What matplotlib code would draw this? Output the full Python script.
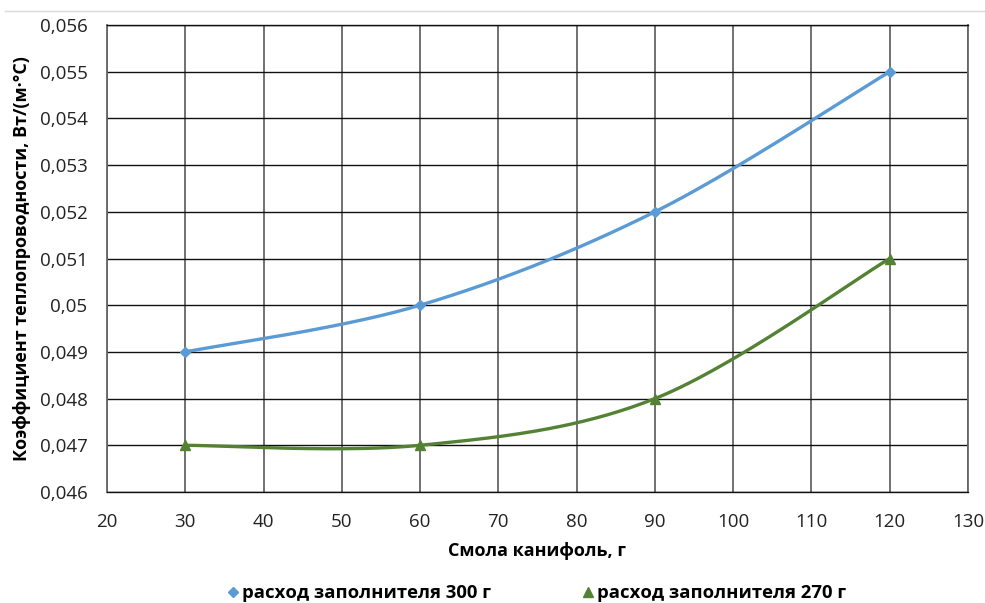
import numpy as np
import matplotlib
matplotlib.use("Agg")
import matplotlib.pyplot as plt
from matplotlib.lines import Line2D
from matplotlib.ticker import FuncFormatter, MultipleLocator

x_vals = [30, 60, 90, 120]
series_300 = [0.049, 0.050, 0.052, 0.055]
series_270 = [0.047, 0.047, 0.048, 0.051]
labels = ["расход заполнителя 300 г", "расход заполнителя 270 г"]
x_label = "Смола канифоль, г"
y_label = "Коэффициент теплопроводности, Вт/(м·°С)"

plt.rcParams['font.family'] = ['Open Sans', 'DejaVu Sans']


def smooth(xs, ys, n=60):
    # Excel-like Catmull-Rom / Bezier smoothing
    P = np.column_stack([xs, ys]).astype(float)
    out = []
    for i in range(len(P) - 1):
        p0 = P[i - 1] if i > 0 else P[i]
        p1 = P[i]
        p2 = P[i + 1]
        p3 = P[i + 2] if i + 2 < len(P) else P[i + 1]
        c1 = p1 + (p2 - p0) / 6.0
        c2 = p2 - (p3 - p1) / 6.0
        t = np.linspace(0, 1, n)[:, None]
        b = ((1 - t) ** 3) * p1 + 3 * ((1 - t) ** 2) * t * c1 + 3 * (1 - t) * t ** 2 * c2 + t ** 3 * p2
        out.append(b if i == 0 else b[1:])
    B = np.vstack(out)
    return B[:, 0], B[:, 1]


def yfmt(v, p):
    s = f"{v:.3f}".rstrip('0').rstrip('.')
    return s.replace('.', ',')


fig = plt.figure(figsize=(9.85, 6.03), dpi=100)
ax = fig.add_axes([107 / 985, 1 - 492 / 603, (968 - 107) / 985, (492 - 25) / 603])

blue = '#5B9BD5'
green = '#548235'

sx, sy = smooth(x_vals, series_300)
ax.plot(sx, sy, color=blue, lw=2.4, zorder=3, solid_capstyle='round')
ax.plot(x_vals, series_300, ls='none', marker='D', ms=5.5, color=blue, zorder=4)
sx, sy = smooth(x_vals, series_270)
ax.plot(sx, sy, color=green, lw=2.4, zorder=3, solid_capstyle='round')
ax.plot(x_vals, series_270, ls='none', marker='^', ms=7, color=green, zorder=4)

ax.set_xlim(20, 130)
ax.set_ylim(0.046, 0.056)
ax.xaxis.set_major_locator(MultipleLocator(10))
ax.yaxis.set_major_locator(MultipleLocator(0.001))
ax.yaxis.set_major_formatter(FuncFormatter(yfmt))
ax.xaxis.set_major_formatter(FuncFormatter(lambda v, p: f"{v:.0f}"))

ax.grid(axis='x', color='#666666', lw=1.3, zorder=1)
ax.grid(axis='y', color='#111111', lw=1.0, zorder=1)
for s in ['left', 'right']:
    ax.spines[s].set_color('#666666')
    ax.spines[s].set_linewidth(1.3)
for s in ['top', 'bottom']:
    ax.spines[s].set_color('#111111')
    ax.spines[s].set_linewidth(1.0)
ax.tick_params(length=0, labelsize=13.5, colors='#222222')
ax.tick_params(axis='y', pad=14)
ax.tick_params(axis='x', pad=15)

ax.set_xlabel(x_label, fontsize=13, fontweight='bold', labelpad=8)
ax.set_ylabel(y_label, fontsize=13, fontweight='bold', labelpad=6)

# top light border line
fig.add_artist(Line2D([5 / 985, 1], [1 - 11 / 603, 1 - 11 / 603], color='#d9d9d9', lw=1))

handles = [Line2D([], [], ls='none', marker='D', ms=5, color=blue),
           Line2D([], [], ls='none', marker='^', ms=6.5, color=green)]
fig.legend(handles, labels, loc='center', bbox_to_anchor=(0.545, 1 - 593 / 603), ncol=2,
           frameon=False, prop={'weight': 'bold', 'size': 13.3},
           handlelength=0.6, handletextpad=0.15, columnspacing=5.0)

fig.savefig('out.png', dpi=100)
